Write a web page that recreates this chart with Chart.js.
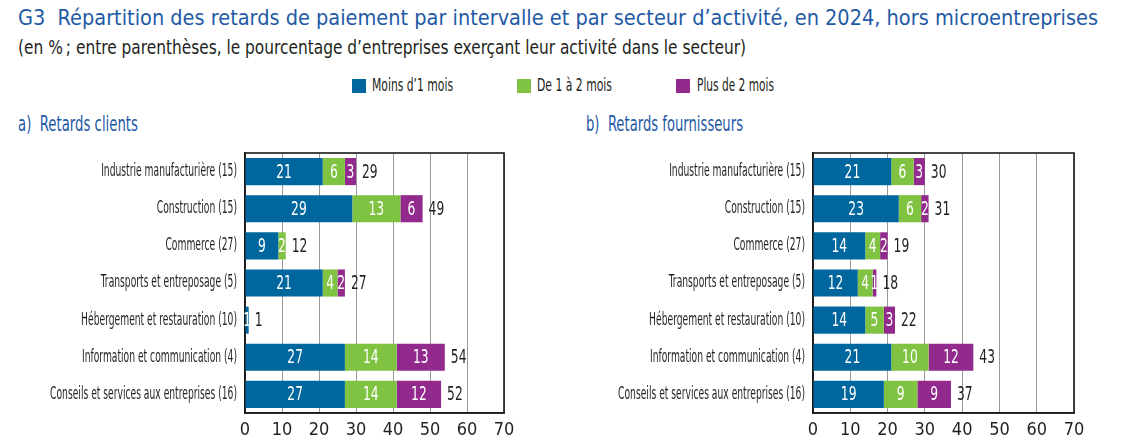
<!DOCTYPE html>
<html><head><meta charset="utf-8">
<script src="https://cdn.jsdelivr.net/npm/chart.js@4/dist/chart.umd.min.js"></script>
<style>
body{margin:0;width:1142px;height:446px;background:#fff;position:relative;overflow:hidden;font-family:'DejaVu Sans Condensed','DejaVu Sans',sans-serif;}
.abs{position:absolute;white-space:nowrap}
.fit{display:inline-block;transform-origin:0 50%;white-space:nowrap}
#title{left:18px;top:5px;font-size:22px;color:#1f5aa6}
#sub{left:18px;top:36px;font-size:19px;color:#231f20}
.legbox{position:absolute;top:79px;width:14px;height:14px}
.legtxt{top:75px;font-size:17px;color:#231f20}
.ptitle{top:112px;font-size:21px;color:#1f5aa6}
.cw{position:absolute;top:150px;width:520px;height:296px}
canvas{display:block}
</style></head>
<body>
<div id="title" class="abs"><span class="fit" data-w="1080">G3&nbsp; Répartition des retards de paiement par intervalle et par secteur d’activité, en 2024, hors microentreprises</span></div>
<div id="sub" class="abs"><span class="fit" data-w="728">(en %&#8239;; entre parenthèses, le pourcentage d’entreprises exerçant leur activité dans le secteur)</span></div>
<div class="legbox" style="left:352px;background:#00679e"></div>
<div class="abs legtxt" style="left:372px"><span class="fit" data-w="81">Moins d’1 mois</span></div>
<div class="legbox" style="left:517px;background:#80c342"></div>
<div class="abs legtxt" style="left:537px"><span class="fit" data-w="75">De 1 à 2 mois</span></div>
<div class="legbox" style="left:676px;background:#912a8c"></div>
<div class="abs legtxt" style="left:697px"><span class="fit" data-w="77">Plus de 2 mois</span></div>
<div class="abs ptitle" style="left:18px"><span class="fit" data-w="120">a)&nbsp; Retards clients</span></div>
<div class="abs ptitle" style="left:586px"><span class="fit" data-w="157">b)&nbsp; Retards fournisseurs</span></div>
<div class="cw" style="left:0px"><canvas id="c1" width="520" height="296"></canvas></div>
<div class="cw" style="left:570px"><canvas id="c2" width="520" height="296"></canvas></div>
<script>
document.querySelectorAll('.fit').forEach(el=>{
  const w = el.getBoundingClientRect().width;
  el.style.transform = 'scaleX(' + (parseFloat(el.dataset.w)/w) + ')';
});

const FONT = "'DejaVu Sans Condensed','DejaVu Sans',sans-serif";
const categories = ["Industrie manufacturière (15)","Construction (15)","Commerce (27)","Transports et entreposage (5)","Hébergement et restauration (10)","Information et communication (4)","Conseils et services aux entreprises (16)"];
const seriesNames = ["Moins d’1 mois","De 1 à 2 mois","Plus de 2 mois"];
const colors = ["#00679e","#80c342","#912a8c"];
const xTicks = [0,10,20,30,40,50,60,70];

// a) Retards clients
const clientsMoins1 = [21,29,9,21,1,27,27];
const clients1a2   = [6,13,2,4,0,14,14];
const clientsPlus2 = [3,6,0,2,0,13,12];
const clientsTotal = [29,49,12,27,1,54,52];

// b) Retards fournisseurs
const fournMoins1 = [21,23,14,12,14,21,19];
const fourn1a2   = [6,6,4,4,5,10,9];
const fournPlus2 = [3,2,2,1,3,12,9];
const fournTotal = [30,31,19,18,22,43,37];

// draw text horizontally condensed around its anchor point
function condensedText(ctx, s, text, x, y){
  ctx.save(); ctx.translate(x, y); ctx.scale(s, 1); ctx.fillText(text, 0, 0); ctx.restore();
}

const labelPlugin = {
  id:'lbl',
  afterLayout(chart){
    const sc = chart.scales.y;
    if (sc && !sc._condensed){
      const orig = sc.drawLabels.bind(sc);
      sc.drawLabels = function(area){
        const ctx = this.ctx, of = ctx.fillText;
        ctx.fillText = function(t, x, y){
          this.save(); this.translate(x, y); this.scale(0.6, 1); of.call(this, t, 0, 0); this.restore();
        };
        try { orig(area); } finally { ctx.fillText = of; }
      };
      sc._condensed = true;
    }
  },
  beforeDatasetsDraw(chart){
    const a = chart.chartArea, ctx = chart.ctx;
    ctx.save(); ctx.strokeStyle = '#1a1a1a'; ctx.lineWidth = 1.6;
    ctx.strokeRect(a.left, a.top, a.right - a.left, a.bottom - a.top);
    ctx.restore();
  },
  afterDatasetsDraw(chart, args, opts){
    const ctx = chart.ctx; ctx.save();
    ctx.font = '19px ' + FONT; ctx.textBaseline = 'middle';
    const ends = [];
    chart.data.datasets.forEach((ds,i)=>{
      const meta = chart.getDatasetMeta(i);
      meta.data.forEach((bar,j)=>{
        ends[j] = Math.max(ends[j]||0, bar.x);
        const v = ds.data[j]; if(!v) return;
        ctx.fillStyle = '#fff'; ctx.textAlign = 'center';
        condensedText(ctx, 0.72, String(v), (bar.x + bar.base)/2, bar.y + 1);
      });
    });
    const meta0 = chart.getDatasetMeta(0);
    opts.totals.forEach((t,j)=>{
      ctx.fillStyle = '#231f20'; ctx.textAlign = 'left';
      condensedText(ctx, 0.72, String(t), ends[j] + 6, meta0.data[j].y + 1);
    });
    ctx.restore();
  }
};

function makeChart(id, series, totals, yWidth){
  new Chart(document.getElementById(id), {
    type:'bar',
    data:{ labels:categories, datasets: series.map((d,i)=>({label:seriesNames[i], data:d, backgroundColor:colors[i], borderWidth:0, barPercentage:0.73, categoryPercentage:1})) },
    options:{
      indexAxis:'y', responsive:false, animation:false,
      layout:{ autoPadding:false, padding:{ top:3, right:16, bottom:0, left:0 } },
      plugins:{ legend:{display:false}, tooltip:{enabled:false}, lbl:{ totals } },
      scales:{
        x:{ stacked:true, min:0, max:70,
            afterBuildTicks(s){ s.ticks = xTicks.map(v=>({value:v})); },
            afterFit(s){ s.height = 33; s.paddingLeft = 0; s.paddingRight = 0; },
            grid:{ color:'#9a9a9a', lineWidth:1, drawTicks:false },
            border:{ display:true, color:'#1a1a1a', width:1.6 },
            ticks:{ font:{ family:FONT, size:18 }, color:'#231f20', padding:7 } },
        y:{ stacked:true,
            afterFit(s){ s.width = yWidth; s.paddingTop = 0; s.paddingBottom = 0; },
            grid:{ display:false, drawTicks:false },
            border:{ display:true, color:'#1a1a1a', width:1.6 },
            ticks:{ font:{ family:FONT, size:17 }, color:'#231f20', padding:8 } }
      }
    },
    plugins:[labelPlugin]
  });
}
makeChart('c1', [clientsMoins1, clients1a2, clientsPlus2], clientsTotal, 245);
makeChart('c2', [fournMoins1, fourn1a2, fournPlus2], fournTotal, 243);
</script>
</body></html>
